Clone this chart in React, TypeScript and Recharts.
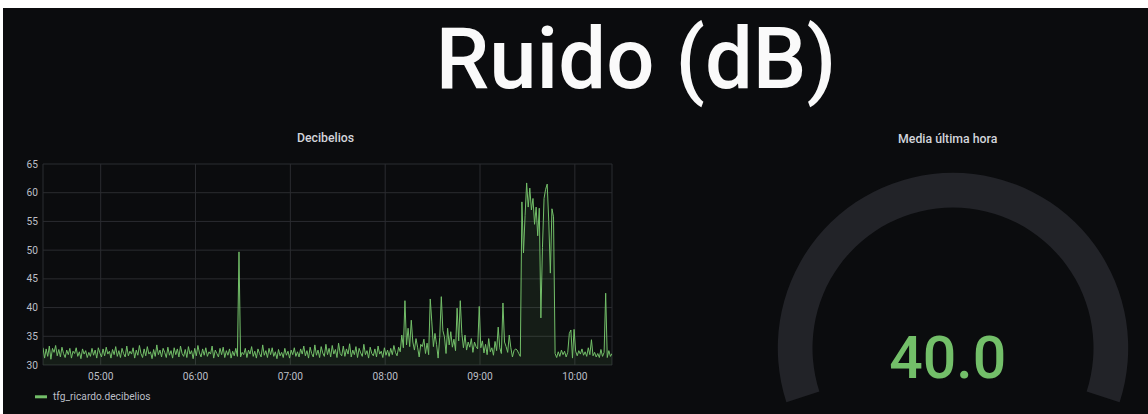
import React from 'react';
import { ComposedChart, Area, XAxis, YAxis, CartesianGrid, PieChart, Pie, Cell } from 'recharts';

// ---------- data ----------
const START_MIN = 263.5; // 04:23:30 in minutes of day
const STEP_MIN = 1;
const DECIBELS: number[] = [
  33.0, 31.2, 32.8, 31.5, 33.3, 31.0, 32.9, 32.2, 33.4, 31.6,
  32.7, 31.4, 33.1, 32.0, 31.3, 32.6, 31.8, 32.9, 31.2, 32.4,
  32.0, 33.0, 31.5, 32.3, 31.1, 32.8, 31.9, 32.5, 31.3, 32.2,
  31.5, 32.9, 31.7, 32.6, 31.2, 33.0, 32.1, 31.4, 32.8, 31.6,
  33.1, 31.9, 32.4, 31.2, 32.7, 31.8, 33.2, 31.5, 32.5, 31.3,
  32.9, 32.0, 31.4, 33.3, 31.6, 32.4, 31.9, 33.0, 31.2, 32.6,
  31.7, 33.4, 32.0, 31.3, 32.8, 31.6, 33.2, 31.9, 32.3, 31.1,
  32.7, 31.5, 33.5, 31.8, 32.6, 31.4, 32.9, 32.2, 31.3, 33.1,
  31.7, 32.5, 31.2, 33.0, 31.8, 32.8, 31.4, 33.3, 32.0, 31.5,
  32.7, 31.3, 33.2, 31.9, 32.5, 31.1, 32.9, 31.6, 33.4, 32.1,
  31.4, 32.8, 31.7, 33.0, 31.5, 32.3, 31.9, 33.3, 31.2, 32.6,
  32.0, 31.4, 32.9, 31.8, 33.1, 31.3, 32.5, 31.7, 32.8, 31.2,
  32.4, 31.6, 32.9, 31.5, 49.7, 31.4, 32.2, 31.8, 32.9, 31.3,
  32.6, 31.9, 33.2, 31.5, 32.4, 31.2, 32.8, 32.0, 31.4, 33.5,
  31.7, 32.5, 31.3, 32.9, 31.8, 33.0, 31.5, 32.3, 31.1, 32.7,
  31.6, 32.2, 31.3, 32.9, 31.7, 32.4, 31.2, 32.6, 31.8, 33.0,
  31.5, 32.3, 31.4, 32.8, 31.9, 33.3, 31.6, 32.5, 31.2, 33.1,
  32.0, 31.4, 33.5, 31.7, 32.6, 31.3, 33.2, 32.1, 31.5, 33.6,
  31.8, 32.9, 31.4, 33.4, 31.9, 32.7, 31.3, 33.8, 32.0, 31.6,
  33.3, 31.5, 32.8, 31.9, 33.7, 31.4, 32.6, 31.8, 33.2, 31.3,
  32.9, 32.1, 31.5, 33.6, 31.8, 32.5, 31.2, 33.1, 32.0, 31.6,
  32.8, 31.4, 33.3, 31.9, 32.4, 31.3, 33.0, 31.7, 32.6, 31.5,
  32.9, 31.8, 33.4, 32.2, 31.6, 33.1, 32.3, 35.2, 33.0, 41.2,
  33.5, 36.4, 33.2, 37.8, 34.0, 32.6, 34.6, 33.1, 31.4, 33.6,
  33.2, 34.5, 32.0, 33.8, 31.8, 41.5, 37.5, 33.2, 35.5, 33.6,
  31.2, 34.8, 41.9, 36.0, 34.9, 32.0, 36.4, 33.5, 35.8, 33.1,
  34.5, 32.5, 39.9, 34.2, 41.2, 35.5, 33.0, 35.2, 32.6, 34.0,
  33.1, 34.6, 32.2, 34.0, 33.2, 32.8, 40.2, 33.0, 34.2, 32.1,
  33.6, 31.8, 34.6, 32.3, 33.0, 31.7, 34.1, 32.5, 36.6, 33.0,
  32.0, 40.8, 34.0, 33.2, 32.2, 35.2, 33.0, 31.4, 32.5, 32.8,
  32.6, 32.0, 31.5, 58.4, 49.5, 56.0, 61.7, 57.5, 60.8, 57.0,
  59.0, 54.5, 57.5, 52.5, 57.3, 38.2, 50.5, 59.0, 60.6, 61.5,
  55.0, 46.0, 57.2, 55.8, 32.0, 31.3, 32.3, 31.5, 32.6, 31.8,
  32.4, 31.4, 32.2, 35.5, 36.1, 31.2, 36.2, 32.4, 31.6, 32.5,
  31.9, 32.8, 31.7, 32.3, 31.5, 33.0, 31.8, 34.4, 31.6, 32.2,
  31.4, 32.0, 31.3, 32.7, 31.5, 32.2, 42.5, 31.3, 32.5, 31.5,
  32.0,
];
const TIME_TICKS = [300, 360, 420, 480, 540, 600];
const TIME_LABELS = ['05:00', '06:00', '07:00', '08:00', '09:00', '10:00'];
const Y_TICKS = [30, 35, 40, 45, 50, 55, 60, 65];
const SERIES_NAME = 'tfg_ricardo.decibelios';
const GAUGE_VALUE = 40.0;
const GAUGE_TRACK = [{ name: 'range', value: 100 }];

const chartData = DECIBELS.map((v, i) => ({ t: START_MIN + i * STEP_MIN, v }));

const GREEN = '#73bf69';
const GRID = '#2b2c30';
const TICK = '#bcbfc6';
const FONT = 'Roboto, "Noto Sans", sans-serif';

const YTick = (props: any) => (
  <text x={props.x} y={props.y} dy={3.6} textAnchor="end" fill={TICK} fontSize={10.2} fontFamily={FONT}>
    {props.payload.value}
  </text>
);
const XTick = (props: any) => {
  const idx = TIME_TICKS.indexOf(props.payload.value);
  return (
    <text x={props.x} y={props.y} dy={3.6} textAnchor="middle" fill={TICK} fontSize={10.2} fontFamily={FONT}>
      {idx >= 0 ? TIME_LABELS[idx] : ''}
    </text>
  );
};

export default function App() {
  return (
    <div style={{ position: 'absolute', left: 0, top: 0, width: 1148, height: 414, background: '#ffffff', overflow: 'hidden' }}>
      <div style={{ position: 'absolute', left: 3, top: 8, width: 1145, height: 406, background: '#0b0c0e' }} />
      <div style={{ position: 'absolute', left: 0, top: 150 }}>
        <ComposedChart width={620} height={245} data={chartData} margin={{ top: 14, right: 8, left: 0, bottom: 0 }}>
          <CartesianGrid stroke={GRID} strokeWidth={1} />
          <XAxis
            dataKey="t"
            type="number"
            domain={[START_MIN, START_MIN + 360]}
            ticks={TIME_TICKS}
            interval={0}
            axisLine={false}
            tickLine={false}
            tickSize={0}
            tickMargin={11.5}
            height={30}
            tick={<XTick />}
            allowDataOverflow
          />
          <YAxis
            type="number"
            domain={[30, 65]}
            ticks={Y_TICKS}
            interval={0}
            axisLine={false}
            tickLine={false}
            tickSize={3}
            tickMargin={2}
            width={43}
            tick={<YTick />}
            allowDataOverflow
          />
          <Area
            type="linear"
            dataKey="v"
            stroke={GREEN}
            strokeWidth={1}
            fill={GREEN}
            fillOpacity={0.1}
            dot={false}
            activeDot={false}
            isAnimationActive={false}
          />
        </ComposedChart>
      </div>
      <div style={{ position: 'absolute', left: 747.7, top: 142.9 }}>
        <PieChart width={400} height={270}>
          <Pie
            data={GAUGE_TRACK}
            dataKey="value"
            cx={200}
            cy={200}
            startAngle={198}
            endAngle={-18}
            innerRadius={140.5}
            outerRadius={175.2}
            stroke="none"
            isAnimationActive={false}
          >
            {GAUGE_TRACK.map((d) => (
              <Cell key={d.name} fill="#222328" />
            ))}
          </Pie>
        </PieChart>
      </div>
      <svg width={1148} height={414} style={{ position: 'absolute', left: 0, top: 0, pointerEvents: 'none' }}>
        <text x={636} y={88} textAnchor="middle" fill="#fafafa" fontSize={85} fontWeight={500} fontFamily={FONT}>Ruido (dB)</text>
        <text x={325.5} y={142.2} textAnchor="middle" fill="#d3d5db" fontSize={12.3} fontWeight={500} fontFamily={FONT}>Decibelios</text>
        <text x={947.7} y={142.5} textAnchor="middle" fill="#d3d5db" fontSize={12.3} fontWeight={500} fontFamily={FONT}>Media última hora</text>
        <rect x={35} y={395.3} width={12} height={3} fill={GREEN} />
        <text x={53} y={400.2} fill={TICK} fontSize={10.2} fontFamily={FONT}>{SERIES_NAME}</text>
        <text x={947.7} y={378} textAnchor="middle" fill={GREEN} fontSize={59} fontWeight={500} fontFamily={FONT}>{GAUGE_VALUE.toFixed(1)}</text>
      </svg>
    </div>
  );
}
